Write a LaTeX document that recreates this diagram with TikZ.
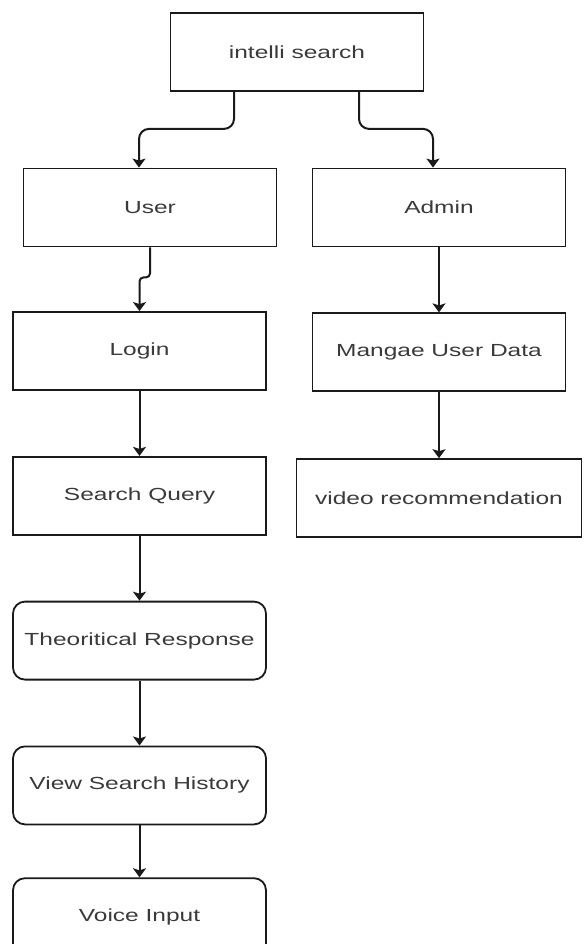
\documentclass[tikz,border=0pt]{standalone}
\usepackage{fontspec}
\setmainfont{Liberation Sans}[FakeStretch=1.4]
\usepackage{tikz}
\usetikzlibrary{arrows.meta,positioning}
\definecolor{textgray}{HTML}{3A3A3A}
\definecolor{linedark}{HTML}{1A1A1A}

\begin{document}
\begin{tikzpicture}[font=\fontsize{17.5}{20}\selectfont]
  \tikzset{box/.style={draw=linedark,line width=1.8pt,text=textgray,minimum width=253pt,minimum height=78pt,inner sep=0pt,align=center},
    roundbox/.style={box,rounded corners=12pt},
    link/.style={draw=linedark,line width=2pt,-{Stealth[length=9pt,width=13pt,inset=2pt]}}}
  \path[use as bounding box,fill=white] (0,0) rectangle (587pt,-944pt);
  % top level
  \node[box] (intelli) at (297pt,-52pt) {intelli search};
  \node[box] (user) at (150pt,-207.5pt) {User};
  \node[box] (admin) at (439pt,-207.5pt) {Admin};
  % admin side
  \node[box,below=65pt of admin] (manage) {Mangae User Data};
  \node[box,minimum width=285pt,below=66pt of manage] (video) {video recommendation};
  % user side
  \node[box] (login) at (139.5pt,-351pt) {Login};
  \node[box,below=65pt of login] (query) {Search Query};
  \node[roundbox,below=65pt of query] (theory) {Theoritical Response};
  \node[roundbox,below=65pt of theory] (history) {View Search History};
  \node[roundbox,below=52pt of history] (voice) {Voice Input};

  \draw[link,rounded corners=10pt] ([xshift=-63pt]intelli.south) -- ++(0,-37pt) -| ([xshift=-11pt]user.north);
  \draw[link,rounded corners=10pt] ([xshift=62pt]intelli.south) -- ++(0,-37pt) -| ([xshift=-6pt]admin.north);
  \draw[link,rounded corners=4pt] (user.south) -- ++(0,-30pt) -| (login.north);
  \draw[link] (admin) -- (manage);
  \draw[link] (manage) -- (video);
  \draw[link] (login) -- (query);
  \draw[link] (query) -- (theory);
  \draw[link] (theory) -- (history);
  \draw[link] (history) -- (voice);
\end{tikzpicture}
\end{document}
